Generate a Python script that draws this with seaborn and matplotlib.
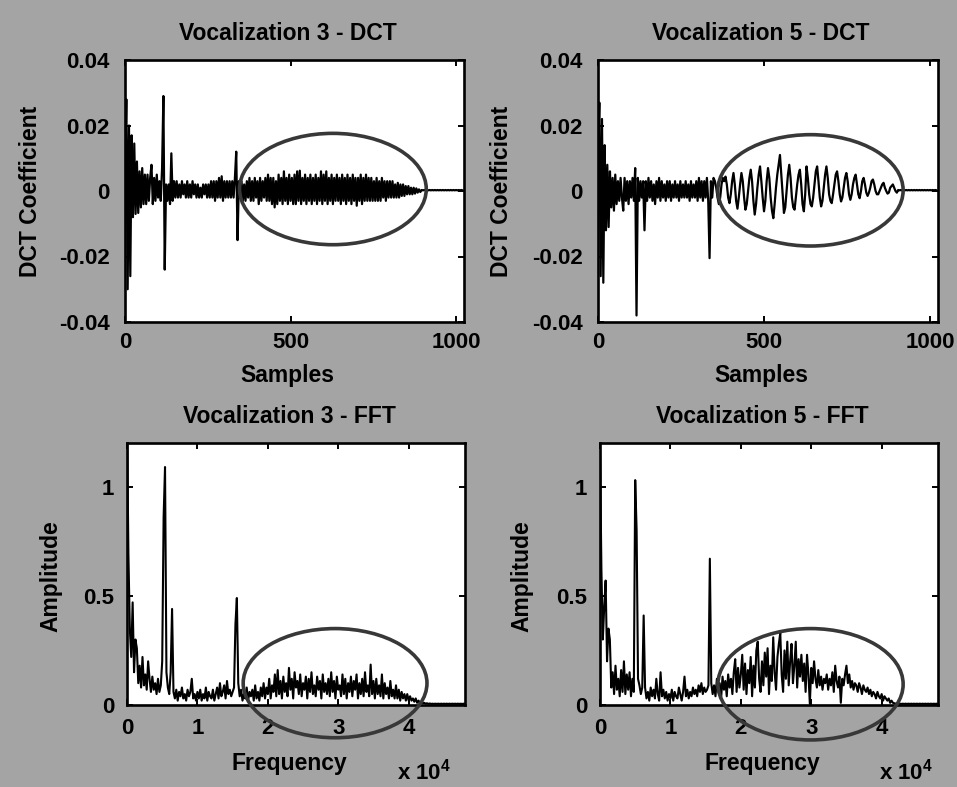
import numpy as np
import pandas as pd
import matplotlib
matplotlib.use("Agg")
import matplotlib.pyplot as plt
from matplotlib.patches import Ellipse
import seaborn as sns

# ---------------------------------------------------------------------------
# DCT coefficients (one value every 4 samples)
# ---------------------------------------------------------------------------
DCT_STEP = 4

dct3_coef = [
    0.005, 0.028, -0.030, 0.020, -0.026, 0.017, -0.008, 0.0145, -0.007, 0.009, -0.0067, 0.006, -0.005, 0.007, -0.004, 0.005,
    -0.004, 0.005, -0.003, 0.004, 0.008, -0.004, 0.004, -0.003, 0.005, -0.002, 0.003, -0.003, 0.007, 0.029, -0.024, 0.002,
    -0.003, 0.002, -0.004, 0.0115, -0.003, 0.003, -0.002, 0.003, -0.002, 0.002, -0.002, 0.003, -0.001, 0.002, -0.002, 0.003,
    -0.002, 0.002, -0.002, 0.003, -0.001, 0.002, -0.002, 0.002, -0.002, 0.001, -0.002, 0.002, -0.001, 0.002, -0.002, 0.002,
    -0.002, 0.003, -0.002, 0.003, -0.003, 0.003, -0.002, 0.004, -0.002, 0.0045, -0.003, 0.003, -0.002, 0.003, -0.002, 0.003,
    -0.002, 0.003, -0.002, 0.004, 0.012, -0.015, 0.003, -0.002, 0.003, -0.003, 0.002, -0.003, 0.003, -0.002, 0.004, -0.003,
    0.003, -0.003, 0.004, -0.002, 0.003, -0.004, 0.004, -0.003, 0.003, -0.002, 0.004, -0.003, 0.005, -0.003, 0.004, -0.004,
    0.004, -0.005, 0.003, -0.004, 0.005, -0.003, 0.004, -0.004, 0.006, -0.003, 0.004, -0.004, 0.005, -0.003, 0.004, -0.004,
    0.005, -0.004, 0.006, -0.003, 0.0062, -0.004, 0.004, -0.003, 0.005, -0.004, 0.004, -0.003, 0.005, -0.004, 0.004, -0.003,
    0.005, -0.004, 0.004, -0.003, 0.006, -0.004, 0.005, -0.003, 0.006, -0.004, 0.004, -0.003, 0.005, -0.004, 0.004, -0.003,
    0.005, -0.003, 0.004, -0.004, 0.005, -0.003, 0.004, -0.004, 0.005, -0.003, 0.004, -0.004, 0.005, -0.003, 0.004, -0.0045,
    0.004, -0.003, 0.005, -0.004, 0.004, -0.003, 0.005, -0.003, 0.004, -0.003, 0.004, -0.003, 0.003, -0.003, 0.004, -0.003,
    0.003, -0.003, 0.004, -0.002, 0.003, -0.003, 0.003, -0.002, 0.003, -0.002, 0.003, -0.002, 0.002, -0.002, 0.0025, -0.002,
    0.002, -0.0015, 0.002, -0.0015, 0.0015, -0.001, 0.0015, -0.001, 0.001, -0.001, 0.001, -0.0008, 0.0008, -0.0005, 0.0005, -0.0003,
    0.0003, 0.0002, 0.0003, 0.0002, 0.0003, 0.0002, 0.0003, 0.0002, 0.0003, 0.0002, 0.0003, 0.0002, 0.0003, 0.0002, 0.0003, 0.0002,
    0.0003, 0.0002, 0.0003, 0.0002, 0.0003, 0.0002, 0.0003, 0.0002, 0.0003, 0.0002, 0.0003, 0.0002, 0.0003, 0.0002, 0.0003, 0.0002,
]

dct5_coef = [
    0.010, 0.027, -0.026, 0.022, -0.028, 0.014, -0.012, 0.008, -0.011, 0.006, -0.005, 0.004, -0.006, 0.005, -0.004, 0.003,
    -0.003, 0.004, -0.002, -0.006, 0.004, -0.003, 0.003, -0.004, 0.003, -0.002, 0.004, -0.003, 0.007, -0.038, 0.004, -0.003,
    0.003, -0.002, 0.003, -0.012, 0.003, -0.003, 0.004, -0.002, 0.003, -0.003, 0.002, -0.004, 0.003, -0.002, 0.004, -0.003,
    0.003, -0.002, 0.002, -0.003, 0.003, -0.002, 0.003, -0.003, 0.002, -0.002, 0.003, -0.002, 0.002, -0.003, 0.003, -0.002,
    0.002, -0.002, 0.003, -0.002, 0.002, -0.003, 0.003, -0.002, 0.002, -0.002, 0.003, -0.003, 0.004, -0.002, 0.003, -0.003,
    0.003, -0.002, 0.004, -0.003, -0.0205, 0.003, -0.002, 0.004, 0.003, 0.001, -0.002, -0.004, -0.002, 0.002, 0.004, 0.003,
    0.0044, 0.002, -0.002, -0.0037, -0.001, 0.003, 0.0055, 0.002, -0.003, -0.0054, -0.002, 0.002, 0.0055, 0.003, -0.002, -0.0057,
    -0.004, 0.000, 0.004, 0.0065, 0.003, -0.003, -0.0072, -0.004, 0.001, 0.005, 0.0075, 0.003, -0.002, -0.0062, -0.003, 0.003,
    0.007, 0.004, -0.002, -0.006, -0.0083, -0.004, 0.001, 0.005, 0.008, 0.011, 0.005, -0.001, -0.0067, -0.005, 0.000, 0.005,
    0.008, 0.004, -0.002, -0.005, -0.0057, -0.002, 0.002, 0.005, 0.0065, 0.002, -0.004, -0.0062, -0.001, 0.0075, 0.004, -0.001,
    -0.004, -0.0047, -0.002, 0.002, 0.006, 0.0075, 0.003, -0.002, -0.0047, -0.003, 0.001, 0.005, 0.0075, 0.004, -0.001, -0.003,
    -0.0037, -0.001, 0.002, 0.005, 0.006, 0.003, -0.001, -0.0032, -0.002, 0.001, 0.004, 0.0055, 0.003, -0.001, -0.0027, -0.001,
    0.002, 0.004, 0.005, 0.002, -0.001, -0.0022, 0.000, 0.003, 0.004, 0.002, -0.0005, -0.0015, -0.0005, 0.001, 0.003, 0.0035,
    0.002, 0.000, -0.001, -0.001, 0.000, 0.001, 0.002, 0.0025, 0.001, 0.000, -0.0008, -0.0005, 0.001, 0.0015, 0.002, 0.001,
    0.000, -0.0005, 0.0003, 0.0002, 0.0003, 0.0002, 0.0003, 0.0002, 0.0003, 0.0002, 0.0003, 0.0002, 0.0003, 0.0002, 0.0003, 0.0002,
    0.0003, 0.0002, 0.0003, 0.0002, 0.0003, 0.0002, 0.0003, 0.0002, 0.0003, 0.0002, 0.0003, 0.0002, 0.0003, 0.0002, 0.0003, 0.0002,
]

# ---------------------------------------------------------------------------
# FFT amplitude spectra (one value every 200 Hz)
# ---------------------------------------------------------------------------
FFT_STEP = 200

fft3_amp = [
    1.30, 0.69, 0.35, 0.22, 0.47, 0.15, 0.30, 0.26, 0.10, 0.18, 0.08, 0.22, 0.09, 0.14, 0.07, 0.20,
    0.12, 0.06, 0.13, 0.07, 0.10, 0.05, 0.12, 0.06, 0.09, 0.20, 0.86, 1.09, 0.15, 0.08, 0.05, 0.15,
    0.44, 0.06, 0.03, 0.07, 0.02, 0.06, 0.04, 0.08, 0.03, 0.05, 0.02, 0.07, 0.04, 0.06, 0.12, 0.03,
    0.05, 0.02, 0.06, 0.03, 0.07, 0.02, 0.05, 0.03, 0.08, 0.02, 0.06, 0.04, 0.03, 0.07, 0.02, 0.05,
    0.08, 0.03, 0.10, 0.04, 0.06, 0.09, 0.03, 0.11, 0.05, 0.07, 0.04, 0.06, 0.08, 0.37, 0.49, 0.10,
    0.04, 0.07, 0.02, 0.05, 0.03, 0.08, 0.02, 0.06, 0.04, 0.07, 0.02, 0.09, 0.03, 0.06, 0.02, 0.08,
    0.04, 0.10, 0.03, 0.08, 0.05, 0.12, 0.03, 0.09, 0.06, 0.14, 0.04, 0.16, 0.05, 0.11, 0.03, 0.13,
    0.06, 0.10, 0.04, 0.17, 0.07, 0.12, 0.03, 0.15, 0.08, 0.11, 0.05, 0.14, 0.04, 0.10, 0.07, 0.13,
    0.03, 0.12, 0.06, 0.15, 0.05, 0.09, 0.04, 0.13, 0.07, 0.11, 0.03, 0.14, 0.06, 0.10, 0.05, 0.12,
    0.04, 0.15, 0.06, 0.11, 0.03, 0.13, 0.07, 0.09, 0.04, 0.14, 0.05, 0.12, 0.03, 0.10, 0.06, 0.13,
    0.04, 0.11, 0.07, 0.14, 0.03, 0.10, 0.05, 0.12, 0.04, 0.15, 0.06, 0.09, 0.04, 0.185, 0.05, 0.11,
    0.03, 0.12, 0.05, 0.09, 0.04, 0.14, 0.03, 0.10, 0.05, 0.08, 0.03, 0.11, 0.04, 0.07, 0.03, 0.09,
    0.03, 0.07, 0.02, 0.06, 0.03, 0.05, 0.02, 0.05, 0.02, 0.04, 0.02, 0.03, 0.015, 0.03, 0.01, 0.02,
    0.010, 0.015, 0.008, 0.010, 0.006, 0.008, 0.005, 0.007, 0.005, 0.006, 0.005, 0.006, 0.005, 0.006, 0.005, 0.006,
    0.005, 0.006, 0.005, 0.006, 0.005, 0.006, 0.005, 0.006, 0.005, 0.006, 0.005, 0.006, 0.005, 0.006, 0.005, 0.006,
    0.005,
]

fft5_amp = [
    1.16, 0.62, 0.30, 0.45, 0.57, 0.20, 0.35, 0.30, 0.08, 0.15, 0.05, 0.18, 0.07, 0.12, 0.04, 0.16,
    0.06, 0.20, 0.05, 0.14, 0.07, 0.15, 0.04, 0.12, 0.06, 1.03, 0.80, 0.12, 0.09, 0.05, 0.08, 0.41,
    0.08, 0.03, 0.06, 0.02, 0.08, 0.04, 0.07, 0.03, 0.12, 0.05, 0.02, 0.15, 0.04, 0.07, 0.03, 0.06,
    0.02, 0.05, 0.03, 0.07, 0.02, 0.06, 0.04, 0.03, 0.08, 0.05, 0.02, 0.06, 0.13, 0.04, 0.07, 0.03,
    0.06, 0.04, 0.08, 0.05, 0.07, 0.04, 0.09, 0.06, 0.10, 0.05, 0.08, 0.06, 0.07, 0.09, 0.67, 0.10,
    0.05, 0.09, 0.04, 0.12, 0.06, 0.10, 0.03, 0.13, 0.07, 0.11, 0.04, 0.14, 0.08, 0.12, 0.05, 0.15,
    0.21, 0.06, 0.17, 0.08, 0.14, 0.23, 0.07, 0.19, 0.05, 0.16, 0.10, 0.22, 0.04, 0.18, 0.08, 0.25,
    0.29, 0.12, 0.06, 0.20, 0.09, 0.24, 0.13, 0.26, 0.05, 0.18, 0.11, 0.31, 0.15, 0.07, 0.22, 0.28,
    0.33, 0.14, 0.06, 0.25, 0.12, 0.29, 0.09, 0.20, 0.28, 0.10, 0.18, 0.29, 0.08, 0.21, 0.13, 0.23,
    0.11, 0.19, 0.06, 0.23, 0.14, 0.005, 0.17, 0.10, 0.20, 0.12, 0.08, 0.16, 0.09, 0.13, 0.07, 0.12,
    0.10, 0.14, 0.07, 0.12, 0.09, 0.15, 0.06, 0.18, 0.11, 0.08, 0.13, 0.01, 0.12, 0.09, 0.14, 0.18,
    0.10, 0.14, 0.08, 0.11, 0.07, 0.10, 0.09, 0.06, 0.10, 0.08, 0.05, 0.09, 0.07, 0.06, 0.08, 0.05,
    0.07, 0.04, 0.06, 0.05, 0.03, 0.06, 0.04, 0.03, 0.05, 0.02, 0.04, 0.03, 0.02, 0.03, 0.01, 0.02,
    0.010, 0.008, 0.006, 0.007, 0.005, 0.006, 0.005, 0.006, 0.005, 0.006, 0.005, 0.006, 0.005, 0.006, 0.005, 0.006,
    0.005, 0.006, 0.005, 0.006, 0.005, 0.006, 0.005, 0.006, 0.005, 0.006, 0.005, 0.006, 0.005, 0.006, 0.005, 0.006,
    0.005,
]

# Axis ticks
dct_yticks = [-0.04, -0.02, 0, 0.02, 0.04]
dct_yticklabels = ["-0.04", "-0.02", "0", "0.02", "0.04"]
dct_xticks = [0, 500, 1000]
fft_yticks = [0, 0.5, 1]
fft_yticklabels = ["0", "0.5", "1"]
fft_xticks = [0, 10000, 20000, 30000, 40000]
fft_xticklabels = ["0", "1", "2", "3", "4"]

# Highlight ellipses: (centre x, centre y, full width, full height)
ellipse_dct3 = (628, 0.0006, 564, 0.034)
ellipse_dct5 = (640, 0.0002, 558, 0.034)
ellipse_fft3 = (29550, 0.10, 26100, 0.50)
ellipse_fft5 = (29900, 0.095, 26300, 0.51)

# ---------------------------------------------------------------------------
sns.set_theme(style="white")
INK = "black"
plt.rcParams["font.family"] = ["Liberation Sans", "DejaVu Sans"]
plt.rcParams["font.weight"] = "bold"
plt.rcParams["axes.labelweight"] = "bold"
plt.rcParams["axes.labelcolor"] = INK
plt.rcParams["text.color"] = INK
plt.rcParams["xtick.color"] = INK
plt.rcParams["ytick.color"] = INK
plt.rcParams["mathtext.fontset"] = "custom"
plt.rcParams["mathtext.rm"] = "Liberation Sans:bold"
plt.rcParams["mathtext.it"] = "Liberation Sans:bold"
plt.rcParams["mathtext.bf"] = "Liberation Sans:bold"

BG = "#a4a4a4"
FS = 16

fig = plt.figure(figsize=(9.57, 7.87), dpi=100, facecolor=BG)

W, H = 957.0, 787.0
def rect(left, top, right, bottom):
    return [left / W, 1 - bottom / H, (right - left) / W, (bottom - top) / H]

ax_tl = fig.add_axes(rect(125, 60, 464, 322))
ax_tr = fig.add_axes(rect(598, 60, 938, 322))
ax_bl = fig.add_axes(rect(127, 443, 465, 705))
ax_br = fig.add_axes(rect(600, 443, 938, 705))


def style_axes(ax):
    ax.set_facecolor("white")
    for s in ax.spines.values():
        s.set_visible(True)
        s.set_color(INK)
        s.set_linewidth(1.9)
    ax.tick_params(direction="in", length=4, width=1.4, colors=INK,
                   labelcolor=INK, top=True, right=True, bottom=True,
                   left=True, labelsize=FS)


def draw_signal(ax, values, step, lw):
    df = pd.DataFrame({"x": np.arange(len(values)) * step, "y": values})
    sns.lineplot(data=df, x="x", y="y", ax=ax, color=INK, linewidth=lw,
                 estimator=None, sort=False, legend=False)


def add_ellipse(ax, params):
    cx, cy, w, h = params
    ax.add_patch(Ellipse((cx, cy), w, h, fill=False, edgecolor="#383838",
                         linewidth=2.6, clip_on=False, zorder=5))


def dct_panel(ax, values, title, ell, ylab_x):
    draw_signal(ax, values, DCT_STEP, 1.6)
    style_axes(ax)
    ax.set_xlim(0, 1024)
    ax.set_ylim(-0.04, 0.04)
    ax.set_yticks(dct_yticks)
    ax.set_yticklabels(dct_yticklabels)
    ax.set_xticks(dct_xticks)
    ax.set_xticklabels([str(t) for t in dct_xticks])
    ax.tick_params(axis="y", pad=11)
    ax.tick_params(axis="x", pad=7)
    ax.set_xlabel("Samples", fontsize=FS + 0.5, fontweight="bold", color=INK)
    ax.set_ylabel("DCT Coefficient", fontsize=FS + 0.5, fontweight="bold", color=INK)
    ax.xaxis.set_label_coords(0.48, -0.16)
    ax.yaxis.set_label_coords(ylab_x, 0.5)
    ax.text(0.48, 1.076, title, transform=ax.transAxes, ha="center",
            va="baseline", fontsize=FS + 0.5, fontweight="bold", color=INK)
    add_ellipse(ax, ell)


def fft_panel(ax, values, title, ell, ylab_x, exp_x):
    draw_signal(ax, values, FFT_STEP, 1.5)
    style_axes(ax)
    ax.set_xlim(0, 48000)
    ax.set_ylim(0, 1.2)
    ax.set_yticks(fft_yticks)
    ax.set_yticklabels(fft_yticklabels)
    ax.set_xticks(fft_xticks)
    ax.set_xticklabels(fft_xticklabels)
    ax.tick_params(axis="y", pad=9)
    ax.tick_params(axis="x", pad=9)
    ax.set_xlabel("Frequency", fontsize=FS + 0.5, fontweight="bold", color=INK)
    ax.set_ylabel("Amplitude", fontsize=FS + 0.5, fontweight="bold", color=INK)
    ax.xaxis.set_label_coords(0.48, -0.179)
    ax.yaxis.set_label_coords(ylab_x, 0.49)
    ax.text(0.48, 1.076, title, transform=ax.transAxes, ha="center",
            va="baseline", fontsize=FS + 0.5, fontweight="bold", color=INK)
    ax.text(exp_x, -0.286, r"x 10$^4$", transform=ax.transAxes, ha="right",
            va="baseline", fontsize=FS, fontweight="bold", color=INK)
    add_ellipse(ax, ell)


dct_panel(ax_tl, dct3_coef, "Vocalization 3 - DCT", ellipse_dct3, -0.245)
dct_panel(ax_tr, dct5_coef, "Vocalization 5 - DCT", ellipse_dct5, -0.25)
fft_panel(ax_bl, fft3_amp, "Vocalization 3 - FFT", ellipse_fft3, -0.192, 0.96)
fft_panel(ax_br, fft5_amp, "Vocalization 5 - FFT", ellipse_fft5, -0.198, 0.985)

fig.savefig("out.png", dpi=100, facecolor=BG)
